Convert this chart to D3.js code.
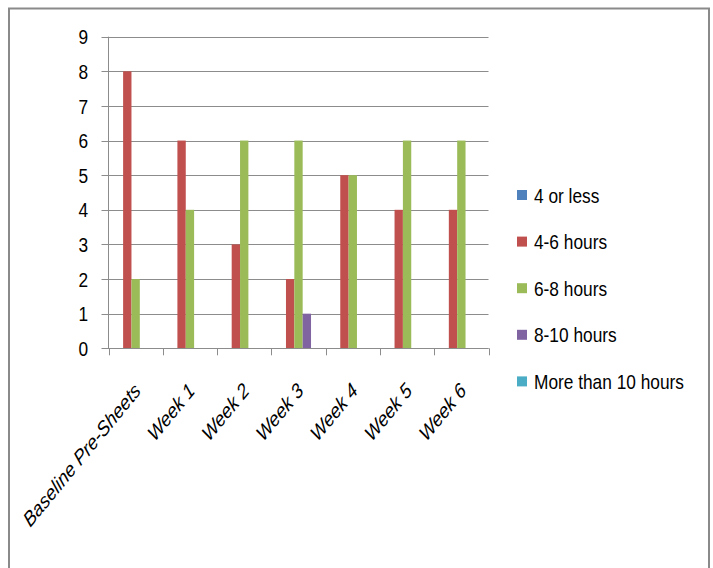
<!DOCTYPE html>
<html>
<head>
<meta charset="utf-8">
<script src="https://cdn.jsdelivr.net/npm/d3@7"></script>
<style>
  html, body { margin: 0; padding: 0; background: #fff; }
  svg { display: block; }
  text { font-family: "Liberation Sans", Arial, sans-serif; fill: #000; }
</style>
</head>
<body>
<svg id="chart" width="713" height="568"></svg>
<script>
// Weekly sleep-duration tallies
const categories = ["Baseline Pre-Sheets", "Week 1", "Week 2", "Week 3", "Week 4", "Week 5", "Week 6"];
const seriesNames = ["4 or less", "4-6 hours", "6-8 hours", "8-10 hours", "More than 10 hours"];
const fourOrLess   = [0, 0, 0, 0, 0, 0, 0];
const fourToSix    = [8, 6, 3, 2, 5, 4, 4];
const sixToEight   = [2, 4, 6, 6, 5, 6, 6];
const eightToTen   = [0, 0, 0, 1, 0, 0, 0];
const moreThanTen  = [0, 0, 0, 0, 0, 0, 0];
const yTicks = [0, 1, 2, 3, 4, 5, 6, 7, 8, 9];
const colors = ["#4F81BD", "#C0504D", "#9BBB59", "#8064A2", "#4BACC6"];

const seriesValues = [fourOrLess, fourToSix, sixToEight, eightToTen, moreThanTen];

// text is drawn slightly tall (vertical stretch)
const FONT = 17.3;
const STRETCH = 1.22;

const svg = d3.select("#chart");

// outer frame
svg.append("rect")
  .attr("x", 9).attr("y", 8.5)
  .attr("width", 700).attr("height", 600)
  .attr("fill", "none").attr("stroke", "#8a8a8a").attr("stroke-width", 2);

const plot = { left: 108.5, right: 488.5, top: 36.7, bottom: 348.3 };

const x0 = d3.scaleBand().domain(categories).range([plot.left, plot.right]).paddingInner(0).paddingOuter(0);
const y = d3.scaleLinear().domain([0, 9]).range([plot.bottom, plot.top]);
// each bar takes 1/(5 + 1.5) of a category; the remainder is the gap
const barW = x0.bandwidth() / 6.5;
const x1 = d3.scaleBand().domain(seriesNames)
  .range([0, barW * seriesNames.length]);

// gridlines
svg.append("g")
  .selectAll("line")
  .data(yTicks)
  .join("line")
  .attr("x1", plot.left - 7).attr("x2", plot.right)
  .attr("y1", d => Math.round(y(d)) + 0.5).attr("y2", d => Math.round(y(d)) + 0.5)
  .attr("stroke", "#8c8c8c").attr("stroke-width", 1);

// y axis labels
svg.append("g")
  .selectAll("text")
  .data(yTicks)
  .join("text")
  .attr("transform", d => `translate(88,${y(d)}) scale(1,${STRETCH})`)
  .attr("dy", "0.36em")
  .attr("text-anchor", "end")
  .attr("font-size", FONT)
  .text(d => d);

// bars
const groups = svg.append("g")
  .selectAll("g")
  .data(categories)
  .join("g")
  .attr("transform", c => `translate(${x0(c) + (x0.bandwidth() - barW * seriesNames.length) / 2},0)`);

groups.selectAll("rect")
  .data((c, i) => seriesNames.map((s, k) => ({ s, k, v: seriesValues[k][i] })))
  .join("rect")
  .filter(d => d.v > 0)
  .attr("x", d => x1(d.s))
  .attr("width", barW)
  .attr("y", d => y(d.v))
  .attr("height", d => y(0) - y(d.v))
  .attr("fill", d => colors[d.k]);

// y axis line
svg.append("line")
  .attr("x1", plot.left).attr("x2", plot.left)
  .attr("y1", plot.top).attr("y2", plot.bottom)
  .attr("stroke", "#8c8c8c");

// x axis with tick marks at category boundaries
const xAxisG = svg.append("g");
xAxisG.append("line")
  .attr("x1", plot.left).attr("x2", plot.right)
  .attr("y1", Math.round(y(0)) + 0.5).attr("y2", Math.round(y(0)) + 0.5)
  .attr("stroke", "#8c8c8c");
const boundaries = categories.map(c => x0(c)).concat([plot.right]);
xAxisG.selectAll("line.tick")
  .data(boundaries)
  .join("line")
  .attr("class", "tick")
  .attr("x1", d => Math.round(d) + 0.5).attr("x2", d => Math.round(d) + 0.5)
  .attr("y1", y(0)).attr("y2", y(0) + 7)
  .attr("stroke", "#8c8c8c");

// rotated category labels
svg.append("g")
  .selectAll("text")
  .data(categories)
  .join("text")
  .attr("transform", c => `translate(${x0(c) + x0.bandwidth() / 2 + 6},392) scale(1,${STRETCH}) rotate(-45)`)
  .attr("text-anchor", "end")
  .attr("font-size", FONT)
  .attr("font-style", "italic")
  .text(c => c);

// legend
const legend = svg.append("g")
  .selectAll("g")
  .data(seriesNames)
  .join("g")
  .attr("transform", (s, i) => `translate(517,${195 + i * 46.6})`);
legend.append("rect")
  .attr("x", 0).attr("y", -5).attr("width", 10).attr("height", 10)
  .attr("fill", (s, i) => colors[i]);
legend.append("text")
  .attr("transform", `translate(17,0) scale(1,${STRETCH})`)
  .attr("dy", "0.36em")
  .attr("font-size", FONT)
  .text(s => s);
</script>
</body>
</html>
